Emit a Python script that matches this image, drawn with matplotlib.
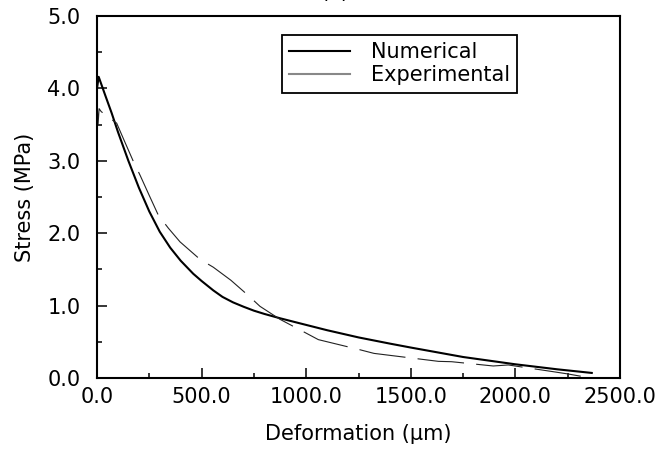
import matplotlib
matplotlib.use("Agg")
import matplotlib.pyplot as plt
from matplotlib.lines import Line2D
from matplotlib.ticker import MultipleLocator, FormatStrFormatter

# Data
num_deformation = [0, 8, 40, 70, 100, 150, 200, 250, 300, 350, 400, 460, 500, 556, 600,
                   650, 700, 750, 800, 875, 970, 1100, 1251, 1400, 1501, 1750, 1998, 2200,
                   2365]
num_stress = [4.0, 4.16, 3.9, 3.66, 3.40, 3.00, 2.63, 2.30, 2.02, 1.80, 1.62, 1.44, 1.34,
              1.21, 1.12, 1.045, 0.985, 0.93, 0.885, 0.825, 0.755, 0.66, 0.56, 0.475,
              0.42, 0.29, 0.19, 0.12, 0.07]

exp_deformation = [0, 5, 10, 20, 46, 94, 130, 174, 206, 250, 293, 341, 397, 492, 556, 640,
                   723, 779, 875, 993, 1058, 1257, 1324, 1632, 1695, 1894, 1966, 2181,
                   2253, 2325]
exp_stress = [3.85, 3.5, 3.72, 3.68, 3.62, 3.52, 3.28, 2.99, 2.80, 2.52, 2.25, 2.07, 1.88,
              1.64, 1.53, 1.35, 1.14, 0.99, 0.81, 0.63, 0.53, 0.39, 0.34, 0.23, 0.225,
              0.166, 0.18, 0.087, 0.055, 0.018]

series_labels = ["Numerical", "Experimental"]
x_label = "Deformation (\u03bcm)"
y_label = "Stress (MPa)"
title_text = "(a)"

plt.rcParams["font.family"] = ["DejaVu Sans"]
FS = 15

fig = plt.figure(figsize=(6.72, 4.5), dpi=100)
W, H = 672, 450
ax = fig.add_axes([97 / W, (H - 378) / H, 523 / W, 362 / H])

ax.plot(num_deformation, num_stress, color="black", lw=1.5, solid_joinstyle="round")
ax.plot(exp_deformation, exp_stress, color="#222222", lw=0.8,
        linestyle=(0, (42, 11)))

ax.set_xlim(0, 2500)
ax.set_ylim(0, 5)
ax.xaxis.set_major_locator(MultipleLocator(500))
ax.xaxis.set_minor_locator(MultipleLocator(250))
ax.yaxis.set_major_locator(MultipleLocator(1))
ax.yaxis.set_minor_locator(MultipleLocator(0.5))
ax.xaxis.set_major_formatter(FormatStrFormatter("%.1f"))
ax.yaxis.set_major_formatter(FormatStrFormatter("%.1f"))

ax.tick_params(which="both", direction="in", top=False, right=False, width=1.1,
               labelsize=FS)
ax.tick_params(which="major", length=7)
ax.tick_params(which="minor", length=3.5)
ax.tick_params(axis="x", which="major", pad=6.5)
ax.tick_params(axis="y", which="major", pad=12)

for sp in ax.spines.values():
    sp.set_linewidth(1.5)

ax.set_xlabel(x_label, fontsize=FS)
ax.set_ylabel(y_label, fontsize=FS)
ax.xaxis.set_label_coords(0.5, (378 - 424) / 362)
ax.yaxis.set_label_coords((35 - 97) / 523, 0.5)

handles = [Line2D([], [], color="black", lw=1.5),
           Line2D([], [], color="#888888", lw=1.5)]
leg = ax.legend(handles, series_labels, loc="upper left",
                bbox_to_anchor=((282 - 97) / 523, (378 - 35) / 362),
                fontsize=FS, frameon=True, fancybox=False, framealpha=1,
                edgecolor="black", borderpad=0.35, handlelength=2.9,
                handletextpad=1.0, labelspacing=0.15, borderaxespad=0)
leg.get_frame().set_linewidth(1.3)

fig.text(335 / W, 1 - 2 / H, title_text, ha="center", va="bottom", fontsize=FS)

fig.savefig("out.png", dpi=100)
